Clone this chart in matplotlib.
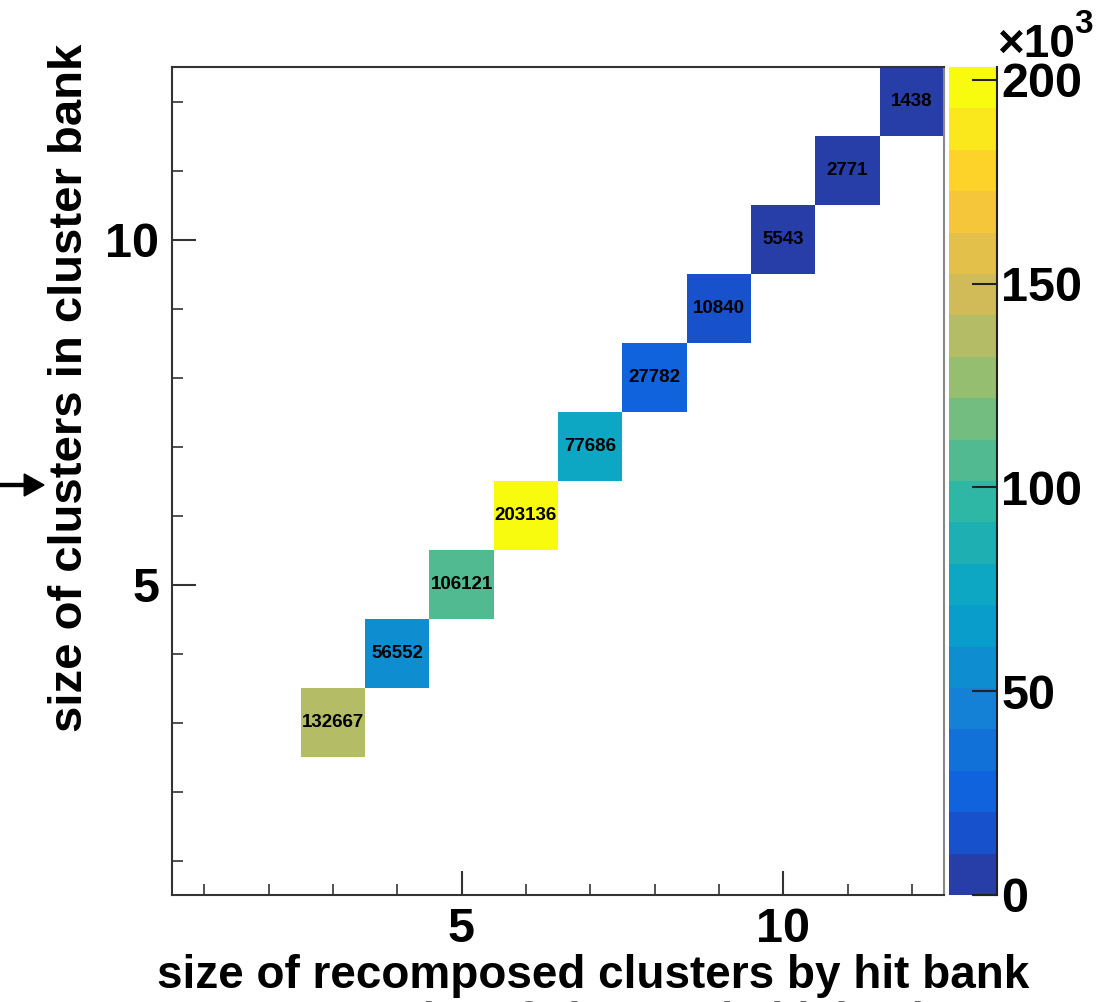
import numpy as np
import matplotlib
matplotlib.use('Agg')
import matplotlib.pyplot as plt
from matplotlib.colors import ListedColormap, BoundaryNorm, LinearSegmentedColormap

plt.rcParams['font.family'] = ['Liberation Sans', 'DejaVu Sans']
plt.rcParams['font.weight'] = 'bold'

# filled bins of the 2D histogram (hit-bank size, cluster-bank size, entries)
hit_size = [3, 4, 5, 6, 7, 8, 9, 10, 11, 12]
bank_size = [3, 4, 5, 6, 7, 8, 9, 10, 11, 12]
entries = [132667, 56552, 106121, 203136, 77686, 27782, 10840, 5543, 2771, 1438]

cbar_ticks = [0, 50000, 100000, 150000, 200000]
cbar_labels = ['0', '50', '100', '150', '200']

# ROOT kBird palette, 255 colours, 20 contour levels
stops = np.linspace(0, 1, 9)
red = [0.2082, 0.0592, 0.0780, 0.0232, 0.1802, 0.5301, 0.8186, 0.9956, 0.9764]
green = [0.1664, 0.3599, 0.5041, 0.6419, 0.7178, 0.7492, 0.7328, 0.7862, 0.9832]
blue = [0.5293, 0.8684, 0.8385, 0.7914, 0.6425, 0.4662, 0.3499, 0.1968, 0.0539]
bird = LinearSegmentedColormap.from_list(
    'bird', list(zip(stops, zip(red, green, blue))), N=255)
ncont = 20
idx = [int((i + 0.99) * 255 / ncont) for i in range(ncont)]
cmap = ListedColormap([bird(min(k, 254) / 254) for k in idx])
zmax = max(entries)
levels = np.linspace(0, zmax, ncont + 1)
norm = BoundaryNorm(levels, ncont, clip=True)

H = np.full((12, 12), np.nan)
for x, y, v in zip(hit_size, bank_size, entries):
    H[y - 1, x - 1] = v
edges = np.arange(0.5, 13.5, 1)

W, Hpx = 1098, 1002
fig = plt.figure(figsize=(W / 100, Hpx / 100), dpi=100)
ax = fig.add_axes([172 / W, 1 - 895 / Hpx, (944 - 172) / W, (895 - 67) / Hpx])
cax = fig.add_axes([949 / W, 1 - 895 / Hpx, 48 / W, (895 - 67) / Hpx])

mesh = ax.pcolormesh(edges, edges, np.ma.masked_invalid(H), cmap=cmap, norm=norm)
for x, y, v in zip(hit_size, bank_size, entries):
    ax.text(x, y, f'{v}', ha='center', va='center', fontsize=13.5,
            fontweight='bold', color='black')

ax.set_xlim(0.5, 12.5)
ax.set_ylim(0.5, 12.5)
ax.set_xticks([5, 10])
ax.set_yticks([5, 10])
ax.set_xticks(range(1, 13), minor=True)
ax.set_yticks(range(1, 13), minor=True)
ax.tick_params(which='major', direction='in', length=17, width=1.5,
               color='#333333', labelsize=35, pad=9)
ax.tick_params(which='minor', direction='in', length=8, width=1.2, color='#333333')
for lab in ax.get_xticklabels() + ax.get_yticklabels():
    lab.set_fontweight('bold')
for side, sp in ax.spines.items():
    sp.set_linewidth(1.5)
    sp.set_color('#333333' if side in ('left', 'bottom', 'top') else '#888888')

cb = fig.colorbar(mesh, cax=cax, ticks=cbar_ticks)
cb.outline.set_visible(False)
cax.set_ylim(0, zmax)
cax.set_yticklabels(cbar_labels)
cax.tick_params(which='major', direction='in', length=18, width=1.5,
                color='#222222', labelsize=35, pad=3)
cax.minorticks_off()
for lab in cax.get_yticklabels():
    lab.set_fontweight('bold')
cax.plot([1, 1], [0, zmax], color='#222222', lw=1.5, clip_on=False,
         transform=cax.get_yaxis_transform())
cax.plot([0.5, 1], [0, 0], color='#222222', lw=1.5, clip_on=False,
         transform=cax.get_yaxis_transform())

fig.text(997 / W, 1 - 57 / Hpx, '\u00d710', fontsize=33,
         fontweight='bold', ha='left', va='baseline')
fig.text(1074 / W, 1 - 33 / Hpx, '3', fontsize=24,
         fontweight='bold', ha='left', va='baseline')

fig.text(593 / W, 1 - 988 / Hpx, 'size of recomposed clusters by hit bank',
         fontsize=33, fontweight='bold', ha='center', va='baseline')
fig.text(70 / W, 1 - 388 / Hpx, 'size of clusters in cluster bank',
         fontsize=34, fontweight='bold', rotation=90, ha='center', va='center')
# second axis title, almost entirely below the bottom edge
fig.text(667 / W, 1 - 1001 / Hpx, 'size of clusters in hit bank',
         fontsize=31, fontweight='bold', ha='center', va='top', color='#666666')

fig.patches.append(matplotlib.patches.FancyArrow(
    0, 1 - 485 / Hpx, 44 / W, 0, width=0.003, head_width=0.022,
    head_length=0.018, length_includes_head=True, color='black',
    transform=fig.transFigure))

fig.savefig('out.png', dpi=100)
